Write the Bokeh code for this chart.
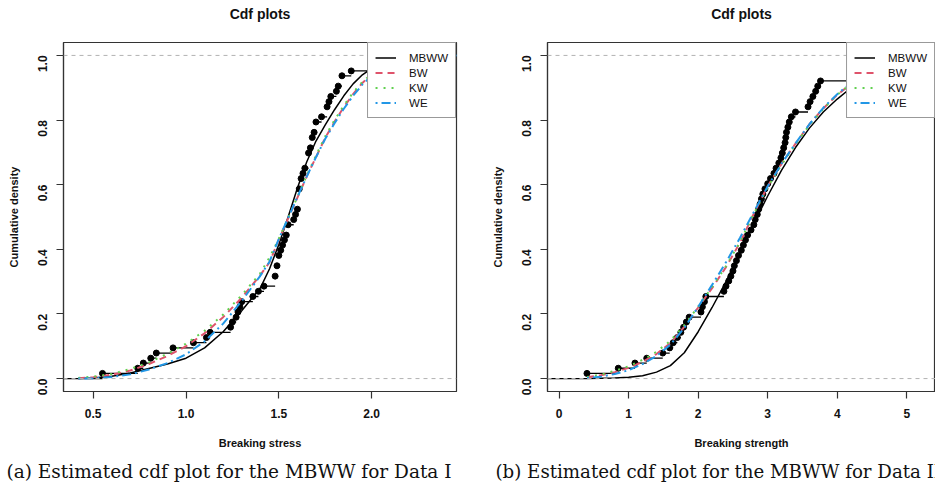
import math
from bokeh.plotting import figure
from bokeh.layouts import row
from bokeh.models import (Span, Legend, LegendItem, FixedTicker, Title,
                          PrintfTickFormatter)
from bokeh.embed import file_html
from bokeh.resources import INLINE

# ---------------- Data I (left panel) ----------------
stress_x = [0.55, 0.74, 0.77, 0.81, 0.84, 0.93, 1.04, 1.11, 1.13, 1.24, 1.25, 1.27,
            1.28, 1.29, 1.30, 1.36, 1.39, 1.42, 1.48, 1.49, 1.50, 1.51, 1.52, 1.53,
            1.54, 1.55, 1.58, 1.59, 1.60, 1.61, 1.62, 1.63, 1.64, 1.66, 1.67, 1.68,
            1.69, 1.70, 1.73, 1.76, 1.77, 1.78, 1.81, 1.82, 1.84, 1.89, 2.00, 2.01, 2.24]
stress_ecdf = [0.016, 0.032, 0.048, 0.063, 0.079, 0.095, 0.111, 0.127, 0.143, 0.159,
               0.175, 0.190, 0.206, 0.222, 0.238, 0.254, 0.270, 0.286, 0.317, 0.349,
               0.381, 0.397, 0.413, 0.429, 0.444, 0.476, 0.492, 0.508, 0.524, 0.587,
               0.619, 0.635, 0.651, 0.698, 0.714, 0.746, 0.762, 0.794, 0.810, 0.841,
               0.857, 0.873, 0.889, 0.905, 0.937, 0.952, 0.968, 0.984, 1.000]

grid_l = [0.42, 0.5, 0.6, 0.7, 0.8, 0.9, 1.0, 1.1, 1.2, 1.3, 1.4, 1.45, 1.5, 1.55, 1.6,
          1.65, 1.7, 1.75, 1.8, 1.85, 1.9, 1.95, 2.0, 2.1, 2.2, 2.3, 2.46]
mbww_l = [0.000, 0.002, 0.007, 0.017, 0.031, 0.045, 0.063, 0.095, 0.145, 0.21, 0.28,
          0.34, 0.415, 0.50, 0.59, 0.67, 0.735, 0.785, 0.832, 0.875, 0.912, 0.94,
          0.96, 0.984, 0.995, 0.999, 1.0]
bw_l = [0.001, 0.004, 0.012, 0.025, 0.045, 0.070, 0.100, 0.140, 0.190, 0.250, 0.320,
        0.360, 0.430, 0.495, 0.560, 0.625, 0.685, 0.745, 0.795, 0.840, 0.880, 0.915,
        0.940, 0.973, 0.989, 0.997, 1.0]
kw_l = [0.002, 0.006, 0.014, 0.030, 0.050, 0.077, 0.108, 0.148, 0.198, 0.258, 0.326,
        0.375, 0.433, 0.497, 0.562, 0.628, 0.690, 0.750, 0.800, 0.845, 0.885, 0.918,
        0.943, 0.975, 0.990, 0.997, 1.0]
we_l = [0.000, 0.001, 0.005, 0.013, 0.028, 0.048, 0.075, 0.115, 0.170, 0.240, 0.318,
        0.362, 0.432, 0.497, 0.562, 0.625, 0.685, 0.742, 0.790, 0.835, 0.875, 0.910,
        0.937, 0.970, 0.987, 0.996, 1.0]

# ---------------- Data II (right panel) ----------------
strength_x = [0.40, 0.85, 1.09, 1.26, 1.49, 1.59, 1.64, 1.70, 1.75, 1.79, 1.83, 1.87,
              2.04, 2.06, 2.09, 2.11, 2.37, 2.40, 2.44, 2.47, 2.50, 2.52, 2.55, 2.58,
              2.62, 2.65, 2.68, 2.71, 2.76, 2.80, 2.82, 2.85, 2.87, 2.89, 2.91, 2.93,
              2.96, 3.00, 3.04, 3.09, 3.12, 3.16, 3.19, 3.21, 3.23, 3.25, 3.26, 3.27,
              3.29, 3.31, 3.34, 3.40, 3.58, 3.61, 3.65, 3.69, 3.72, 3.76, 4.21, 4.50,
              4.80, 5.00, 5.30]
strength_ecdf = [0.016, 0.032, 0.048, 0.063, 0.079, 0.095, 0.111, 0.127, 0.143, 0.159,
                 0.175, 0.190, 0.206, 0.222, 0.238, 0.254, 0.270, 0.286, 0.302, 0.317,
                 0.333, 0.349, 0.365, 0.381, 0.397, 0.413, 0.429, 0.444, 0.460, 0.476,
                 0.492, 0.508, 0.524, 0.540, 0.556, 0.571, 0.587, 0.603, 0.619, 0.635,
                 0.651, 0.667, 0.683, 0.698, 0.714, 0.730, 0.746, 0.762, 0.778, 0.794,
                 0.810, 0.825, 0.841, 0.857, 0.873, 0.889, 0.905, 0.921, 0.937, 0.952,
                 0.968, 0.984, 1.000]

grid_r = [0.4, 0.6, 0.8, 1.0, 1.2, 1.4, 1.6, 1.8, 2.0, 2.2, 2.4, 2.6, 2.8, 3.0, 3.2,
          3.4, 3.6, 3.8, 4.0, 4.2, 4.4, 4.6, 4.8, 5.0, 5.2, 5.42]
mbww_r = [0.000, 0.001, 0.002, 0.004, 0.009, 0.020, 0.040, 0.080, 0.145, 0.220, 0.300,
          0.390, 0.480, 0.565, 0.645, 0.715, 0.775, 0.825, 0.865, 0.900, 0.928, 0.950,
          0.966, 0.977, 0.985, 0.990]
bw_r = [0.004, 0.010, 0.020, 0.033, 0.052, 0.076, 0.110, 0.160, 0.220, 0.280, 0.345,
        0.420, 0.510, 0.595, 0.665, 0.727, 0.787, 0.836, 0.878, 0.912, 0.940, 0.960,
        0.974, 0.984, 0.990, 0.995]
kw_r = [0.005, 0.012, 0.024, 0.038, 0.058, 0.083, 0.117, 0.165, 0.223, 0.283, 0.348,
        0.422, 0.510, 0.592, 0.662, 0.725, 0.785, 0.835, 0.878, 0.913, 0.940, 0.960,
        0.975, 0.985, 0.991, 0.995]
we_r = [0.002, 0.006, 0.014, 0.026, 0.045, 0.070, 0.105, 0.157, 0.222, 0.290, 0.360,
        0.435, 0.515, 0.595, 0.665, 0.728, 0.787, 0.838, 0.880, 0.915, 0.942, 0.962,
        0.976, 0.986, 0.992, 0.996]

stress_ticks = [0.5, 1.0, 1.5, 2.0]
strength_ticks = [0, 1, 2, 3, 4, 5]
y_ticks = [0.0, 0.2, 0.4, 0.6, 0.8, 1.0]
series_names = ["MBWW", "BW", "KW", "WE"]
series_colors = ["#000000", "#DF536B", "#61D04F", "#2297E6"]
series_dashes = ["solid", "7 5", "2 6", "2 4 9 4"]
series_widths = [1.5, 2, 2, 2]

SANS = "Liberation Sans"


def make_panel(xr, width, border_left, border_right, xticks, xfmt, xlabel, ex, ey,
               grid, curves, caption, cap_offset, cap_size):
    p = figure(width=width, height=492, x_range=xr, y_range=(-0.04, 1.04),
               output_backend="svg", toolbar_location=None, title=None,
               min_border_left=border_left, min_border_right=border_right,
               min_border_top=42, min_border_bottom=101)
    # spacer panel next to the frame, then the main title above it
    p.add_layout(Title(text=" ", text_font_size="14px", standoff=2), "above")
    p.add_layout(Title(text="Cdf plots", align="center", vertical_align="middle",
                       text_font=SANS, text_font_style="bold",
                       text_font_size="14px", text_color="#111111", standoff=0),
                 "above")
    p.xgrid.visible = False
    p.ygrid.visible = False
    p.outline_line_color = "#333333"
    p.outline_line_width = 1.2
    p.outline_line_alpha = 1.0
    p.background_fill_color = "white"
    p.border_fill_color = "white"

    for ax in (p.xaxis[0], p.yaxis[0]):
        ax.axis_line_color = "#333333"
        ax.axis_line_width = 1.2
        ax.major_tick_line_color = "#333333"
        ax.major_tick_line_width = 1.2
        ax.major_tick_out = 7
        ax.major_tick_in = 0
        ax.minor_tick_line_color = None
        ax.major_label_text_font = SANS
        ax.major_label_text_font_style = "bold"
        ax.major_label_text_font_size = "12px"
        ax.major_label_text_color = "#111111"
        ax.axis_label_text_font = SANS
        ax.axis_label_text_font_style = "bold"
        ax.axis_label_text_font_size = "11px"
        ax.axis_label_text_color = "#111111"
    p.xaxis.ticker = FixedTicker(ticks=xticks)
    p.xaxis.formatter = PrintfTickFormatter(format=xfmt)
    p.yaxis.ticker = FixedTicker(ticks=y_ticks)
    p.yaxis.formatter = PrintfTickFormatter(format="%.1f")
    p.xaxis.axis_label = xlabel
    p.yaxis.axis_label = "Cumulative density"
    p.yaxis.major_label_orientation = math.pi / 2
    p.xaxis.major_label_standoff = 10
    p.yaxis.major_label_standoff = 14
    p.xaxis.axis_label_standoff = 16
    p.yaxis.axis_label_standoff = 11

    for loc in (0, 1):
        p.add_layout(Span(location=loc, dimension="width", line_color="#b3b3b3",
                          line_dash="4 4", line_width=1))

    # empirical cdf: horizontal steps and points
    x0 = [xr[0] - 1] + ex
    x1 = ex + [xr[1] + 1]
    yy = [0.0] + ey
    p.segment(x0=x0, y0=yy, x1=x1, y1=yy, line_color="black", line_width=1.3)
    p.scatter(ex, ey, size=6, color="black")

    items = []
    for name, ys, col, dash, w in zip(series_names, curves, series_colors,
                                      series_dashes, series_widths):
        r = p.line(grid, ys, line_color=col, line_dash=dash, line_width=w)
        items.append(LegendItem(label=name, renderers=[r]))

    leg = Legend(items=items, location="top_right", margin=0, padding=7,
                 spacing=0, glyph_width=21, glyph_height=15, label_height=15,
                 label_standoff=13, border_line_color="#333333",
                 border_line_width=1.2, background_fill_alpha=1.0,
                 label_text_font=SANS, label_text_font_size="11.5px",
                 label_text_color="#111111")
    p.add_layout(leg)

    cap = Title(text=caption, align="left", offset=cap_offset,
                text_font="DejaVu Serif", text_font_style="normal",
                text_font_size=cap_size, text_color="#111111", standoff=14)
    p.add_layout(cap, "below")
    return p


left = make_panel((0.34, 2.457), 480, 63, 24, stress_ticks, "%.1f", "Breaking stress",
                  stress_x, stress_ecdf, grid_l, [mbww_l, bw_l, kw_l, we_l],
                  "(a) Estimated cdf plot for the MBWW for Data I", -57, "18.5px")
right = make_panel((-0.168, 5.414), 455, 67, 0, strength_ticks, "%d", "Breaking strength",
                   strength_x, strength_ecdf, grid_r, [mbww_r, bw_r, kw_r, we_r],
                   "(b) Estimated cdf plot for the MBWW for Data II", -52, "18.2px")

layout = row(left, right)
open("out.html", "w").write(file_html(layout, INLINE))
